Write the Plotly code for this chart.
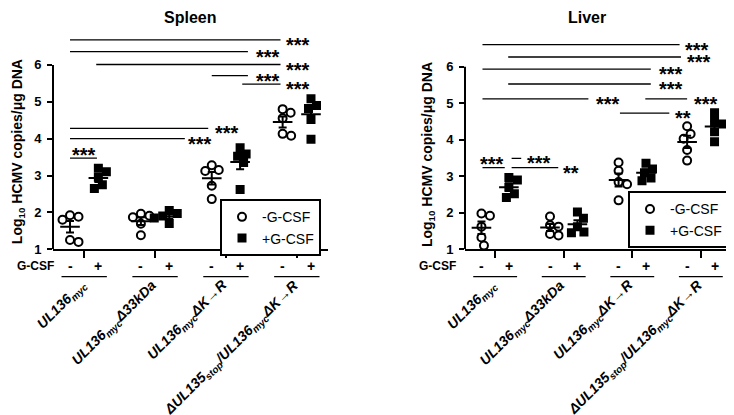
import numpy as np
import plotly.graph_objects as go

W, H = 734, 415

strains = [
    "UL136<sub>myc</sub>",
    "UL136<sub>myc</sub>Δ33kDa",
    "UL136<sub>myc</sub>ΔK→R",
    "ΔUL135<sub>stop</sub>/UL136<sub>myc</sub>ΔK→R",
]
yticks = [1, 2, 3, 4, 5, 6]

# log10 HCMV copies / ug DNA, 5 mice per group
spleen_minus = [
    [1.92, 1.88, 1.80, 1.25, 1.20],
    [1.96, 1.91, 1.87, 1.69, 1.38],
    [3.28, 3.15, 3.12, 2.72, 2.36],
    [4.80, 4.70, 4.55, 4.13, 4.08],
]
spleen_plus = [
    [3.20, 3.10, 2.95, 2.75, 2.65],
    [2.05, 1.97, 1.90, 1.85, 1.70],
    [3.75, 3.58, 3.52, 3.35, 2.62],
    [5.08, 4.90, 4.82, 4.52, 3.98],
]
liver_minus = [
    [1.98, 1.92, 1.62, 1.32, 1.10],
    [1.90, 1.66, 1.62, 1.42, 1.38],
    [3.38, 3.15, 2.84, 2.78, 2.34],
    [4.37, 4.16, 4.03, 3.72, 3.43],
]
liver_plus = [
    [2.97, 2.90, 2.70, 2.52, 2.42],
    [2.02, 1.85, 1.62, 1.47, 1.45],
    [3.36, 3.20, 3.10, 2.95, 2.88],
    [4.74, 4.50, 4.43, 4.22, 3.95],
]

# significance lines: (x start, x end, y, label, label x, label y)
spleen_sig = [
    (-0.2, 2.77, 6.68, "***", 3.01, 6.68),
    (-0.2, 2.31, 6.36, "***", 2.59, 6.36),
    (0.17, 2.77, 6.01, "***", 3.01, 6.01),
    (1.80, 2.31, 5.71, "***", 2.59, 5.71),
    (2.23, 2.77, 5.48, "***", 3.01, 5.48),
    (-0.2, 1.75, 4.28, "***", 2.01, 4.28),
    (-0.2, 1.42, 4.00, "***", 1.63, 4.00),
    (-0.2, 0.18, 3.47, "***", 0.0, 3.69),
]
liver_sig = [
    (-0.185, 2.69, 6.61, "***", 2.95, 6.61),
    (0.19, 2.71, 6.27, "***", 2.97, 6.27),
    (-0.185, 2.27, 5.94, "***", 2.56, 5.94),
    (0.19, 2.27, 5.53, "***", 2.56, 5.53),
    (-0.185, 1.36, 5.12, "***", 1.64, 5.12),
    (2.19, 2.80, 5.12, "***", 3.07, 5.12),
    (1.82, 2.54, 4.73, "**", 2.74, 4.73),
    (-0.185, 0.14, 3.24, "***", -0.04, 3.47),
    (0.24, 0.92, 3.24, "**", 1.11, 3.24),
    (0.24, 0.38, 3.49, "***", 0.64, 3.49),
]

FONT = "Arial, Liberation Sans, sans-serif"


def X(px):
    return px / W


def Y(py):
    return 1 - py / H


def swarm(vals, xpu, ypu, d=8.5):
    # simple beeswarm: shift points sideways (in px) until they no longer touch
    placed, offs = [], []
    for v in vals:
        y = v * ypu
        best = None
        for step in range(0, 80):
            for sgn in ([0] if step == 0 else [1, -1]):
                dx = sgn * step * 0.5
                if all((dx - px) ** 2 + (y - py) ** 2 >= d * d for px, py in placed):
                    best = dx
                    break
            if best is not None:
                break
        placed.append((best, y))
        offs.append(best / xpu)
    return offs


panels = [
    dict(name="Spleen", minus=spleen_minus, plus=spleen_plus, sig=spleen_sig,
         xdom=(45, 320), ybot=246, ypu=37.6, xa="x", ya="y", legend="legend",
         title_x=182, ytitle_x=10, ytitle_y=147, gcsf_x=48),
    dict(name="Liver", minus=liver_minus, plus=liver_plus, sig=liver_sig,
         xdom=(457, 723), ybot=246, ypu=37.2, xa="x2", ya="y2", legend="legend2",
         title_x=579, ytitle_x=420, ytitle_y=150, gcsf_x=450),
]

xr = [-0.44, 3.44]
yr = [1, 6.95]

fig = go.Figure()
shapes, annos = [], []
layout_axes = {}

for k, p in enumerate(panels):
    xpu = (p["xdom"][1] - p["xdom"][0]) / (xr[1] - xr[0])
    for data, sym, off, nm in [(p["minus"], "circle-open", -0.2, "-G-CSF"),
                               (p["plus"], "square", 0.2, "+G-CSF")]:
        for g, vals in enumerate(data):
            sw = swarm(vals, xpu, p["ypu"])
            fig.add_trace(go.Scatter(
                x=[g + off + s for s in sw], y=vals, mode="markers",
                marker=dict(symbol=sym, size=8 if sym == "circle-open" else 7,
                            color="black", line=dict(color="black", width=2)),
                xaxis=p["xa"], yaxis=p["ya"], cliponaxis=False,
                name=nm, showlegend=(g == 0), legend=p["legend"],
            ))
            m = float(np.mean(vals))
            sem = float(np.std(vals, ddof=1) / np.sqrt(len(vals)))
            fig.add_trace(go.Scatter(
                x=[g + off], y=[m], mode="markers",
                marker=dict(symbol="line-ew", size=14, line=dict(color="black", width=2)),
                error_y=dict(type="data", array=[sem], width=4, thickness=2, color="black"),
                xaxis=p["xa"], yaxis=p["ya"], showlegend=False, hoverinfo="skip",
            ))

    ax_suffix = "" if k == 0 else "2"
    d0, d1 = X(p["xdom"][0]), X(p["xdom"][1])
    ytop = p["ybot"] - (yr[1] - yr[0]) * p["ypu"]
    layout_axes["xaxis" + ax_suffix] = dict(
        domain=[d0, d1], range=xr, showline=True, linewidth=2, linecolor="black",
        ticks="outside", ticklen=7, tickwidth=2, tickcolor="black",
        tickvals=[0, 1, 2, 3], showticklabels=False, showgrid=False, zeroline=False,
        anchor="y" + ax_suffix,
    )
    layout_axes["yaxis" + ax_suffix] = dict(
        domain=[Y(p["ybot"]), Y(ytop)], range=yr, showline=False,
        ticks="outside", ticklen=5, tickwidth=2, tickcolor="black",
        tickvals=yticks, ticktext=[str(t) for t in yticks], ticklabelstandoff=3,
        tickfont=dict(family=FONT, size=13, color="black", weight="bold"),
        showgrid=False, zeroline=False, anchor="x" + ax_suffix,
    )
    # y axis line only from 1 to 6
    shapes.append(dict(type="line", xref="paper", yref=p["ya"], x0=d0, x1=d0,
                       y0=yticks[0], y1=yticks[-1], line=dict(color="black", width=2)))

    # significance lines and stars
    for x0, x1, y, lab, lx, ly in p["sig"]:
        shapes.append(dict(type="line", xref=p["xa"], yref=p["ya"], x0=x0, x1=x1,
                           y0=y, y1=y, line=dict(color="black", width=1.3)))
        annos.append(dict(xref=p["xa"], yref=p["ya"], x=lx, y=ly, text=lab,
                          xanchor="center", yanchor="middle", showarrow=False, yshift=-5,
                          font=dict(family=FONT, size=20, color="black", weight="bold")))

    # G-CSF -/+ row and underlines
    annos.append(dict(xref="paper", yref="paper", x=X(p["gcsf_x"]), y=Y(263),
                      text="<b>G-CSF</b>", xanchor="right", yanchor="middle",
                      showarrow=False, font=dict(family=FONT, size=12, color="black")))
    for g, lab in enumerate(strains):
        for off, s in [(-0.2, "-"), (0.2, "+")]:
            annos.append(dict(xref=p["xa"], yref="paper", x=g + off, y=Y(263),
                              text="<b>" + s + "</b>", xanchor="center", yanchor="middle",
                              showarrow=False, font=dict(family=FONT, size=14, color="black")))
        shapes.append(dict(type="line", xref=p["xa"], yref="paper", x0=g - 0.32,
                           x1=g + 0.32, y0=Y(274), y1=Y(274),
                           line=dict(color="black", width=1.3)))
        annos.append(dict(xref=p["xa"], yref="paper", x=g + 0.12, y=Y(271),
                          text="<b><i>" + lab + "</i></b>", textangle=-45,
                          xanchor="right", yanchor="top", showarrow=False,
                          font=dict(family=FONT, size=14, color="black")))

    # panel title and y axis title
    annos.append(dict(xref="paper", yref="paper", x=X(p["title_x"]), y=Y(10),
                      text="<b>" + p["name"] + "</b>", xanchor="center", yanchor="middle",
                      showarrow=False, font=dict(family=FONT, size=16, color="black")))
    annos.append(dict(xref="paper", yref="paper", x=X(p["ytitle_x"]),
                      y=Y(p["ytitle_y"]), textangle=-90, xanchor="center", yanchor="middle",
                      text="<b>Log<sub>10</sub> HCMV copies/μg DNA</b>", showarrow=False,
                      font=dict(family=FONT, size=14, color="black")))

legend_style = dict(font=dict(family=FONT, size=14, color="black"), bgcolor="white",
                    bordercolor="black", borderwidth=2, xanchor="right", yanchor="top",
                    itemwidth=30, tracegroupgap=0)

fig.update_layout(
    width=W, height=H, margin=dict(l=0, r=0, t=0, b=0),
    paper_bgcolor="white", plot_bgcolor="white",
    shapes=shapes, annotations=annos,
    legend=dict(x=X(313), y=Y(195), **legend_style),
    legend2=dict(x=X(721), y=Y(187), **legend_style),
    **layout_axes,
)

fig.write_html("out.html")
